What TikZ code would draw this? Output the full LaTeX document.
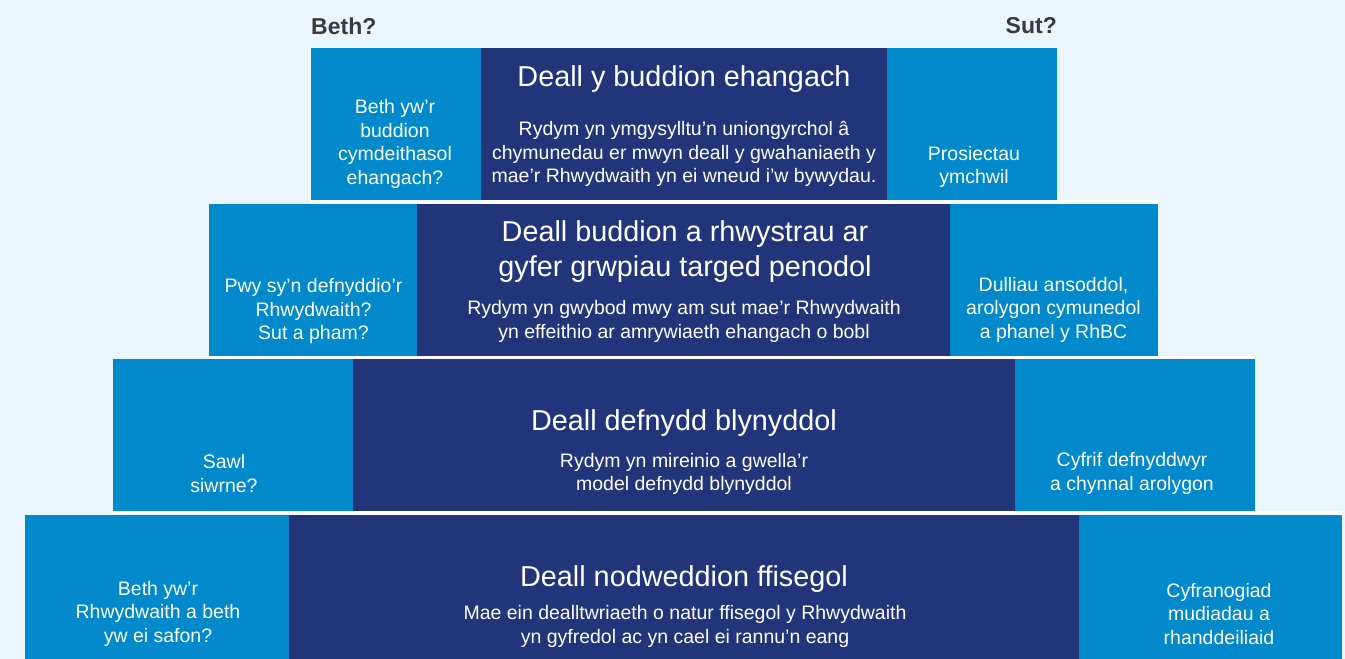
\documentclass[tikz,border=0pt]{standalone}
\usepackage{fontspec}
\setmainfont{Liberation Sans}
\definecolor{bgc}{HTML}{EBF5FC}
\definecolor{lblue}{HTML}{0089CB}
\definecolor{navy}{HTML}{22357A}
\definecolor{hdr}{HTML}{3A3A3A}
\tikzset{
  boxbase/.style={rectangle, inner sep=0pt, outer sep=0pt, draw=none, anchor=north west},
  lb/.style={boxbase, fill=lblue},
  nb/.style={boxbase, fill=navy},
  txt/.style={text=white, align=center, inner sep=0pt, font=\fontsize{19.5}{23.5}\selectfont},
  ttl/.style={text=white, align=center, inner sep=0pt, font=\fontsize{28.8}{35}\selectfont},
  hd/.style={text=hdr, inner sep=0pt, font=\fontsize{23}{27}\selectfont\bfseries},
  gap/.style={fill=white, draw=none}
}
\begin{document}
\begin{tikzpicture}[x=1pt,y=-1pt]
\fill[bgc] (0,0) rectangle (1345,659);
\useasboundingbox (0,0) rectangle (1345,659);
% headers
\node[hd, anchor=west] (beth) at (311,26) {Beth?};
\node[hd, anchor=east] (sut) at (1057,26) {Sut?};
% white gaps
\fill[gap] (311,200) rectangle (1158,204);
\fill[gap] (209,356) rectangle (1255,359);
\fill[gap] (113,511) rectangle (1342,515);
% row 1
\node[lb, minimum width=170pt, minimum height=152pt] (b1l) at (311,48) {};
\node[nb, minimum width=406pt, minimum height=152pt] (b1c) at (481,48) {};
\node[lb, minimum width=170pt, minimum height=152pt] (b1r) at (887,48) {};
% row 2
\node[lb, minimum width=208pt, minimum height=152pt] (b2l) at (209,204) {};
\node[nb, minimum width=533pt, minimum height=152pt] (b2c) at (417,204) {};
\node[lb, minimum width=208pt, minimum height=152pt] (b2r) at (950,204) {};
% row 3
\node[lb, minimum width=240pt, minimum height=152pt] (b3l) at (113,359) {};
\node[nb, minimum width=662pt, minimum height=152pt] (b3c) at (353,359) {};
\node[lb, minimum width=240pt, minimum height=152pt] (b3r) at (1015,359) {};
% row 4
\node[lb, minimum width=264pt, minimum height=144pt] (b4l) at (25,515) {};
\node[nb, minimum width=790pt, minimum height=144pt] (b4c) at (289,515) {};
\node[lb, minimum width=263pt, minimum height=144pt] (b4r) at (1079,515) {};
% row 1 texts
\node[txt] (t1l) at (395,144) {Beth yw’r\\buddion\\cymdeithasol\\ehangach?};
\node[ttl] (h1c) at (684,79) {Deall y buddion ehangach};
\node[txt] (t1c) at (684,154) {Rydym yn ymgysylltu’n uniongyrchol â\\chymunedau er mwyn deall y gwahaniaeth y\\mae’r Rhwydwaith yn ei wneud i’w bywydau.};
\node[txt] (t1r) at (974,167) {Prosiectau\\ymchwil};
% row 2 texts
\node[txt] (t2l) at (313.5,311) {Pwy sy’n defnyddio’r\\Rhwydwaith?\\Sut a pham?};
\node[ttl] (h2c) at (685,251.5) {Deall buddion a rhwystrau ar\\gyfer grwpiau targed penodol};
\node[txt] (t2c) at (684,321.5) {Rydym yn gwybod mwy am sut mae’r Rhwydwaith\\yn effeithio ar amrywiaeth ehangach o bobl};
\node[txt] (t2r) at (1053.5,309.5) {Dulliau ansoddol,\\arolygon cymunedol\\a phanel y RhBC};
% row 3 texts
\node[txt] (t3l) at (224,473.5) {Sawl\\siwrne?};
\node[ttl] (h3c) at (684,423) {Deall defnydd blynyddol};
\node[txt] (t3c) at (684,474) {Rydym yn mireinio a gwella’r\\model defnydd blynyddol};
\node[txt] (t3r) at (1132,473.5) {Cyfrif defnyddwyr\\a chynnal arolygon};
% row 4 texts
\node[txt] (t4l) at (158,613.5) {Beth yw’r\\Rhwydwaith a beth\\yw ei safon?};
\node[ttl] (h4c) at (684,579) {Deall nodweddion ffisegol};
\node[txt] (t4c) at (685,626.5) {Mae ein dealltwriaeth o natur ffisegol y Rhwydwaith\\yn gyfredol ac yn cael ei rannu’n eang};
\node[txt] (t4r) at (1219,614) {Cyfranogiad\\mudiadau a\\rhanddeiliaid};
\end{tikzpicture}
\end{document}
